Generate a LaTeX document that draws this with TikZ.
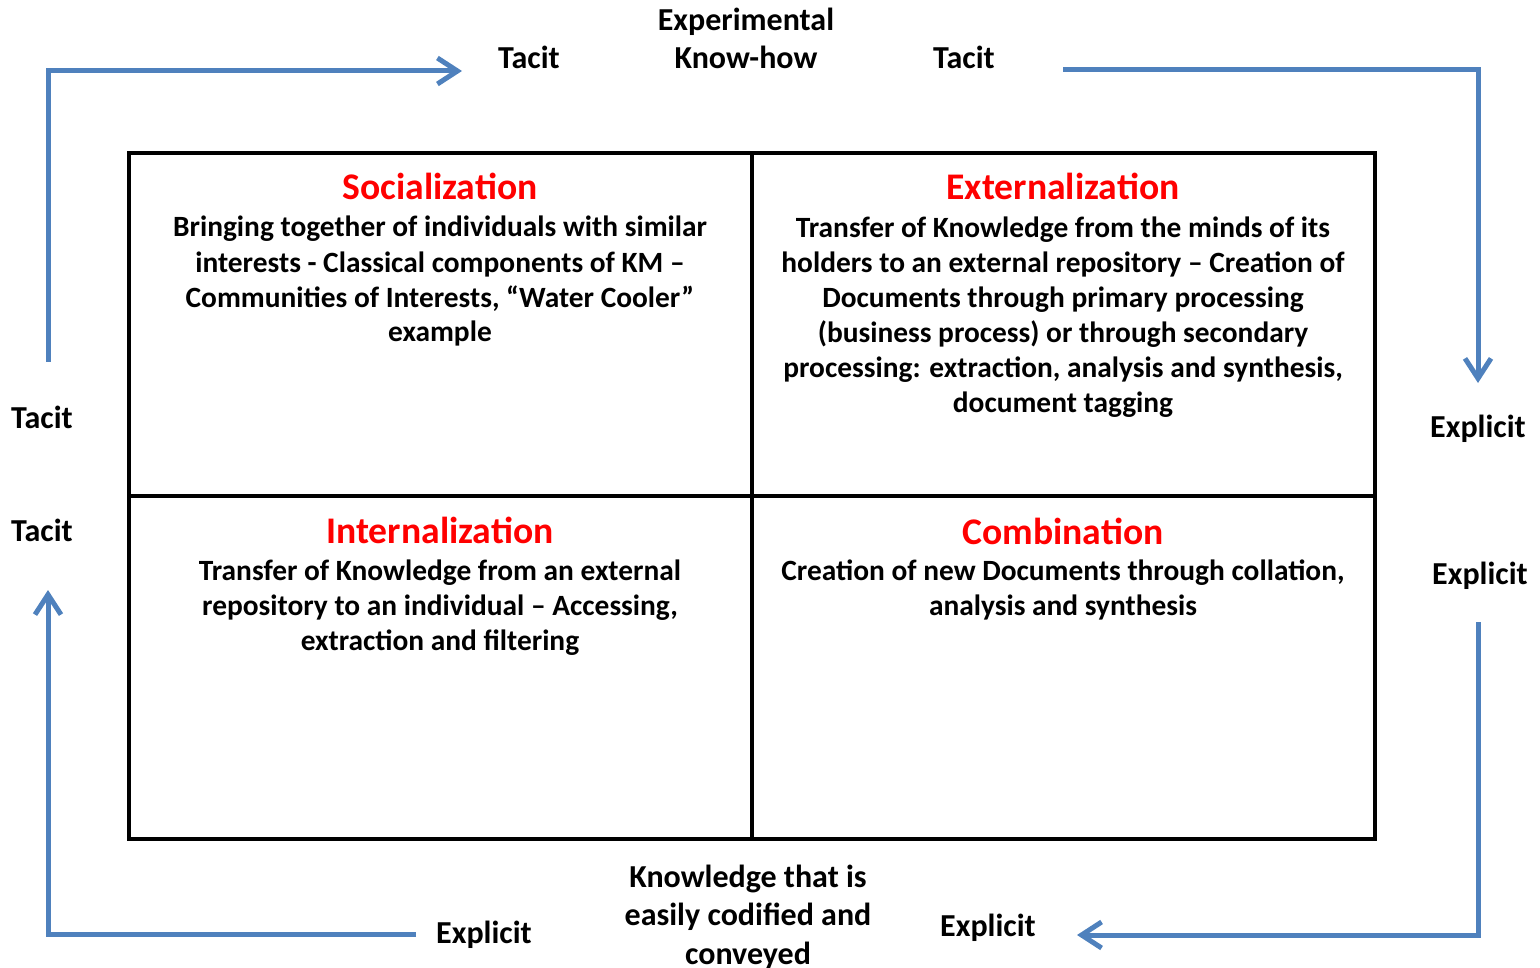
\documentclass[tikz,border=0pt]{standalone}
\usepackage{fontspec}
\setmainfont{Carlito}
\usetikzlibrary{arrows.meta}
\definecolor{flowblue}{HTML}{4F81BD}
\definecolor{titlered}{HTML}{FF0000}
\begin{document}
\begin{tikzpicture}[x=1pt,y=-1pt,
  flow/.style={draw=flowblue, line width=5pt, -{Straight Barb[length=20pt,width=26pt]}},
  gridline/.style={draw=black, line width=3.5pt},
  lbl/.style={font=\fontsize{32}{38.5}\selectfont\bfseries, inner sep=0pt, align=center, anchor=base},
  ttl/.style={font=\fontsize{37.6}{44}\selectfont\bfseries, text=titlered, inner sep=0pt, anchor=base},
  body/.style={font=\fontsize{29.4}{35}\selectfont\bfseries, inner sep=0pt, align=center, anchor=base}]
\useasboundingbox (0,0) rectangle (1540,968);

% matrix box
\draw[gridline] (129,153) rectangle (1375,839);
\draw[gridline] (752,153) -- (752,839);
\draw[gridline] (129,496) -- (1375,496);

% outer labels (anchor = baseline of the last line)
\node[lbl] (exp) at (746,69) {Experimental\\Know-how};
\node[lbl] (ttop1) at (529,69) {Tacit};
\node[lbl] (ttop2) at (964,69) {Tacit};
\node[lbl] (tl1) at (42,428) {Tacit};
\node[lbl] (tl2) at (42,541) {Tacit};
\node[lbl] (er1) at (1478,437) {Explicit};
\node[lbl] (er2) at (1480,584) {Explicit};
\node[lbl] (eb1) at (484,943) {Explicit};
\node[lbl] (eb2) at (988,936) {Explicit};
\node[lbl] (kn) at (748,964) {Knowledge that is\\easily codified and\\conveyed};

% quadrants
\node[ttl] (soc) at (440,200) {Socialization};
\node[body] (socb) at (440,342) {Bringing together of individuals with similar\\interests - Classical components of KM –\\Communities of Interests, “Water Cooler”\\example};
\node[ttl] (ext) at (1063,200) {Externalization};
\node[body] (extb) at (1063,412) {Transfer of Knowledge from the minds of its\\holders to an external repository – Creation of\\Documents through primary processing\\(business process) or through secondary\\processing: extraction, analysis and synthesis,\\document tagging};
\node[ttl] (int) at (440,543) {Internalization};
\node[body] (intb) at (440,650) {Transfer of Knowledge from an external\\repository to an individual – Accessing,\\extraction and filtering};
\node[ttl] (com) at (1063,544) {Combination};
\node[body] (comb) at (1063,615) {Creation of new Documents through collation,\\analysis and synthesis};

% flow arrows
\coordinate (a1s) at (48,362);  \coordinate (a1e) at (462,71);
\coordinate (a2s) at (1063,70); \coordinate (a2e) at (1478,383);
\coordinate (a3s) at (1478,622); \coordinate (a3e) at (1077,935);
\coordinate (a4s) at (416,934); \coordinate (a4e) at (48,590);
\draw[flow] (a1s) |- (a1e);
\draw[flow] (a2s) -| (a2e);
\draw[flow] (a3s) |- (a3e);
\draw[flow] (a4s) -| (a4e);
\end{tikzpicture}
\end{document}
